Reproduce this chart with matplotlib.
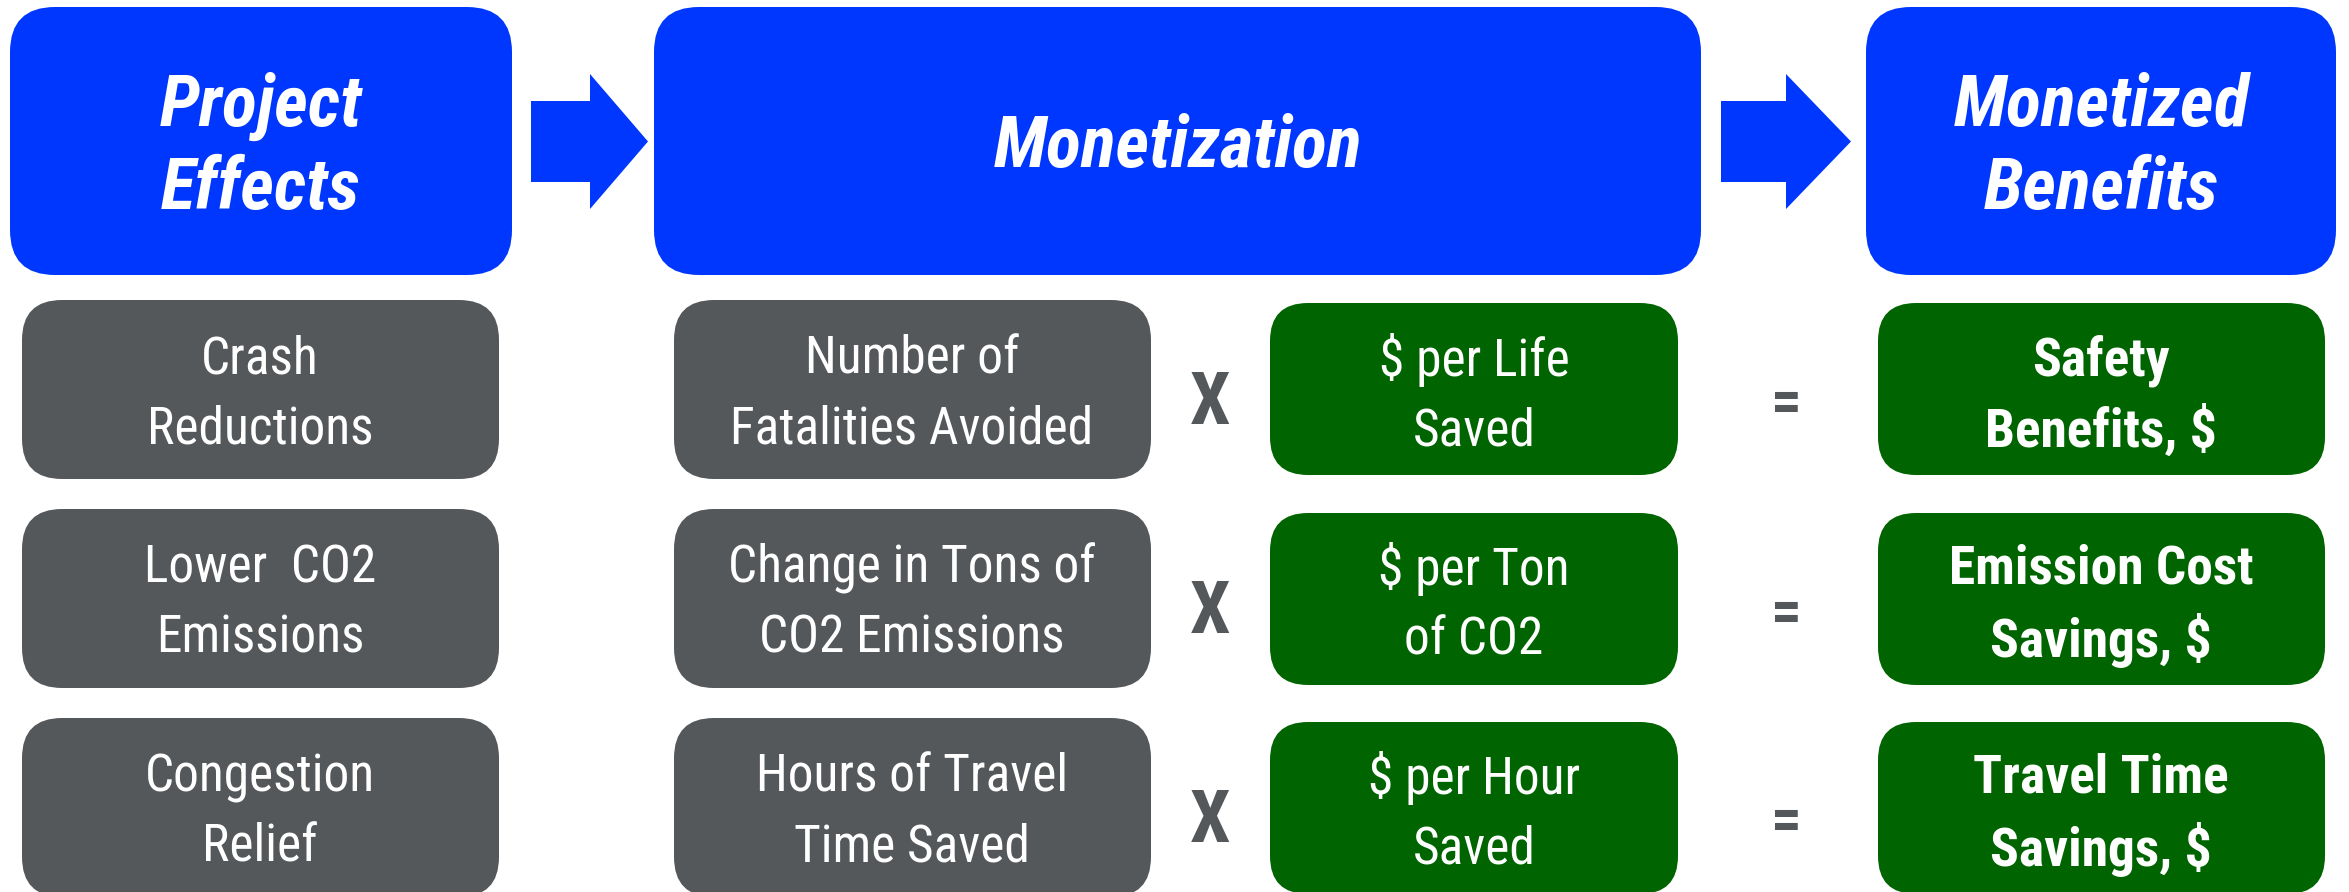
import matplotlib
matplotlib.use("Agg")
import matplotlib.pyplot as plt
from matplotlib.patches import FancyBboxPatch, Polygon

# ---- content ----
headers = ["Project\nEffects", "Monetization", "Monetized\nBenefits"]
effects = ["Crash\nReductions", "Lower  CO2\nEmissions", "Congestion\nRelief"]
quantities = ["Number of\nFatalities Avoided", "Change in Tons of\nCO2 Emissions", "Hours of Travel\nTime Saved"]
unit_values = ["$ per Life\nSaved", "$ per Ton\nof CO2", "$ per Hour\nSaved"]
benefits = ["Safety\nBenefits, $", "Emission Cost\nSavings, $", "Travel Time\nSavings, $"]

BLUE = "#0037FF"
GRAY = "#55585B"
GREEN = "#006400"
W, H = 2349, 892
NARROW = ["Roboto Condensed", "PT Sans Narrow", "Liberation Sans", "DejaVu Sans"]

fig = plt.figure(figsize=(W / 100, H / 100), dpi=100)
ax = fig.add_axes([0, 0, 1, 1])
ax.set_xlim(0, W)
ax.set_ylim(H, 0)
ax.axis("off")


def box(x0, x1, y0, y1, color, r):
    p = FancyBboxPatch((x0, y0), x1 - x0, y1 - y0,
                       boxstyle=f"round,pad=0,rounding_size={r}",
                       fc=color, ec="none")
    ax.add_patch(p)


def arrow(xs, xb, xt, ys0, ys1, yh0, yh1):
    yc = (yh0 + yh1) / 2
    pts = [(xs, ys0), (xb, ys0), (xb, yh0), (xt, yc), (xb, yh1), (xb, ys1), (xs, ys1)]
    ax.add_patch(Polygon(pts, closed=True, fc=BLUE, ec="none"))


# header boxes
hdr_x = [(10, 512), (654, 1701), (1866, 2336)]
for (x0, x1), t in zip(hdr_x, headers):
    box(x0, x1, 7, 275, BLUE, 45)
    ax.text((x0 + x1) / 2, 148, t, ha="center", va="center", color="white",
            fontsize=52, fontweight="bold", fontstyle="italic", family=NARROW,
            linespacing=1.27)

arrow(531, 590, 648, 101, 182, 74, 209)
arrow(1721, 1786, 1851, 101, 182, 74, 209)

rows = [(300, 479), (509, 688), (718, 897)]
grows = [(303, 475), (513, 685), (722, 894)]
for i in range(3):
    y0, y1 = rows[i]
    gy0, gy1 = grows[i]
    yc = (y0 + y1) / 2
    box(22, 499, y0, y1, GRAY, 40)
    ax.text(260, yc + 5, effects[i], ha="center", va="center", color="white",
            fontsize=37, family=NARROW, linespacing=1.5)
    box(674, 1151, y0, y1, GRAY, 40)
    ax.text(912, yc + 5, quantities[i], ha="center", va="center", color="white",
            fontsize=37, family=NARROW, linespacing=1.5)
    ax.text(1210, yc + 15, "X", ha="center", va="center", color=GRAY,
            fontsize=52, fontweight="bold", family=NARROW)
    box(1270, 1678, gy0, gy1, GREEN, 38)
    ax.text(1474, yc + 5, unit_values[i], ha="center", va="center", color="white",
            fontsize=37, family=NARROW, linespacing=1.5)
    ax.text(1786, yc + 15, "=", ha="center", va="center", color=GRAY,
            fontsize=44, fontweight="bold", family=NARROW)
    box(1878, 2325, gy0, gy1, GREEN, 38)
    ax.text(2101, yc + 7, benefits[i], ha="center", va="center", color="white",
            fontsize=38.5, fontweight="bold", family=NARROW, linespacing=1.42)

fig.savefig("out.png", dpi=100, facecolor="white")
